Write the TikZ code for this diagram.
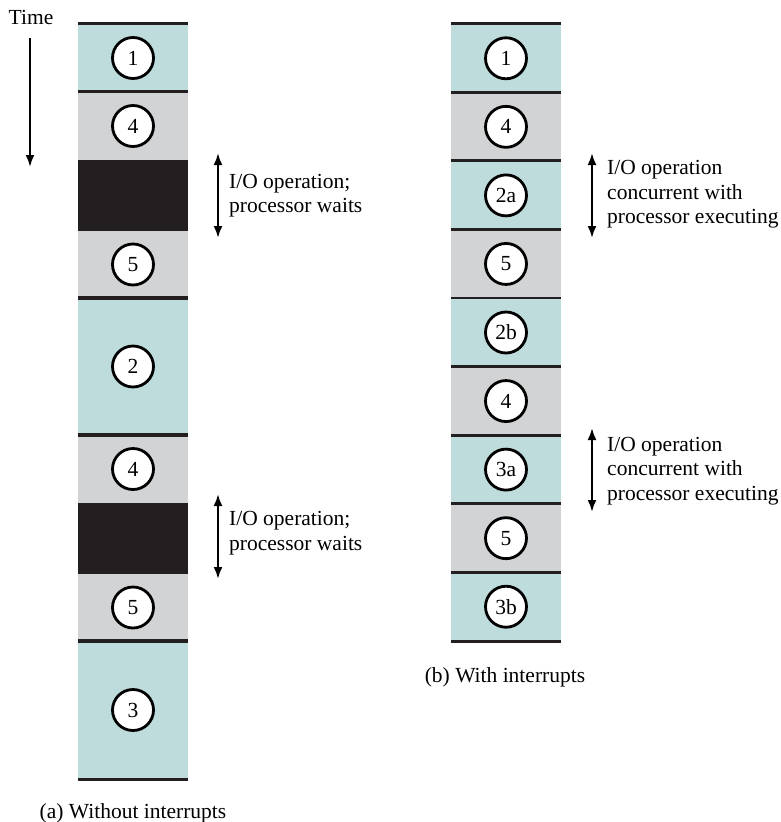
\documentclass[tikz,border=0pt]{standalone}
\usepackage{fontspec}
\setmainfont{Liberation Serif}
\usetikzlibrary{arrows.meta}
\definecolor{tealband}{HTML}{BDDCDB}
\definecolor{greyband}{HTML}{D1D3D4}
\definecolor{ioblack}{HTML}{231F20}
\begin{document}
\begin{tikzpicture}[x=1pt,y=-1pt,
  band/.style={draw=none,inner sep=0pt,minimum width=110pt},
  num/.style={circle,draw=black,line width=2.8pt,fill=white,minimum size=41pt,inner sep=0pt,font=\fontsize{21.5}{24}\selectfont},
  sepline/.style={line width=2.8pt,draw=ioblack},
  tip/.style={Latex[length=12pt,width=9pt]},
  ioarrow/.style={line width=2.2pt,{Latex[length=12pt,width=9pt]}-{Latex[length=12pt,width=9pt]}},
  lbl/.style={inner sep=0pt,align=left,anchor=west,font=\fontsize{21.5}{24.5}\selectfont},
  captxt/.style={inner sep=0pt,font=\fontsize{21.5}{24}\selectfont}]
\useasboundingbox (0,0) rectangle (780,822);
% ---- left column (a)
\node[band,fill=tealband,minimum height=68pt] (a1) at (133,58) {};
\node[band,fill=greyband,minimum height=68pt] (a2) at (133,126) {};
\node[band,fill=ioblack,minimum height=71pt] (a3) at (133,195.5) {};
\node[band,fill=greyband,minimum height=67pt] (a4) at (133,264.5) {};
\node[band,fill=tealband,minimum height=137pt] (a5) at (133,366.5) {};
\node[band,fill=greyband,minimum height=68pt] (a6) at (133,469) {};
\node[band,fill=ioblack,minimum height=71pt] (a7) at (133,538.5) {};
\node[band,fill=greyband,minimum height=67pt] (a8) at (133,607.5) {};
\node[band,fill=tealband,minimum height=138pt] (a9) at (133,710) {};
\foreach \n in {a1,a2,a5,a6,a9} \draw[sepline] (\n.north west) -- (\n.north east);
\foreach \n in {a4,a5,a8} \draw[sepline] (\n.south west) -- (\n.south east);
\draw[sepline] (a9.south west) -- (a9.south east);
\node[num] (ca1) at (a1) {1};
\node[num] (ca2) at (a2) {4};
\node[num] (ca4) at (a4) {5};
\node[num] (ca5) at (a5) {2};
\node[num] (ca6) at (a6) {4};
\node[num] (ca8) at (a8) {5};
\node[num] (ca9) at (a9) {3};
% time arrow
\node[captxt] (time) at (31,17) {Time};
\coordinate (ts) at (30,38);
\coordinate (te) at (30,167);
\draw[line width=2.2pt,-{Latex[length=12pt,width=9pt]}] (ts) -- (te);
% io arrows left
\coordinate (l1s) at (218,153); \coordinate (l1e) at (218,238);
\draw[ioarrow] (l1s) -- (l1e);
\node[lbl] (t1) at (229,195.5) {I/O operation;\\processor waits};
\coordinate (l2s) at (218,494); \coordinate (l2e) at (218,579);
\draw[ioarrow] (l2s) -- (l2e);
\node[lbl] (t2) at (229,533) {I/O operation;\\processor waits};
\node[captxt] (capa) at (133,813) {(a) Without interrupts};
% ---- right column (b)
\foreach \i/\c in {1/tealband,2/greyband,3/tealband,4/greyband,5/tealband,6/greyband,7/tealband,8/greyband,9/tealband}{
  \node[band,fill=\c,minimum height=68.6pt] (b\i) at (506,{24+68.555*(\i-0.5)}) {};
}
\foreach \i in {1,...,9} \draw[sepline] (b\i.north west) -- (b\i.north east);
\draw[sepline] (b9.south west) -- (b9.south east);
\foreach \i/\t in {1/1,2/4,3/2a,4/5,5/2b,6/4,7/3a,8/5,9/3b}{
  \node[num] (cb\i) at (b\i) {\t};
}
\coordinate (r1s) at (592,153); \coordinate (r1e) at (592,238);
\draw[ioarrow] (r1s) -- (r1e);
\node[lbl] (t3) at (607,194.5) {I/O operation\\concurrent with\\processor executing};
\coordinate (r2s) at (592,428); \coordinate (r2e) at (592,512);
\draw[ioarrow] (r2s) -- (r2e);
\node[lbl] (t4) at (607,471) {I/O operation\\concurrent with\\processor executing};
\node[captxt] (capb) at (505,677) {(b) With interrupts};
\end{tikzpicture}
\end{document}
